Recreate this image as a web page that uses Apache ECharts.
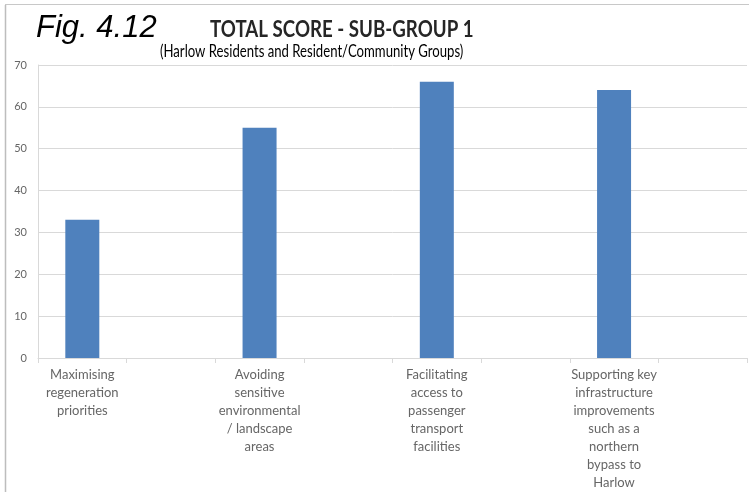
<!DOCTYPE html>
<html><head><meta charset="utf-8">
<script src="https://cdn.jsdelivr.net/npm/echarts@6/dist/echarts.min.js"></script>
<style>html,body{margin:0;padding:0;background:#fff}#c{width:749px;height:492px}</style>
</head><body><div id="c"></div>
<script>
const categories = [
  "Maximising\nregeneration\npriorities",
  "Avoiding\nsensitive\nenvironmental\n/ landscape\nareas",
  "Facilitating\naccess to\npassenger\ntransport\nfacilities",
  "Supporting key\ninfrastructure\nimprovements\nsuch as a\nnorthern\nbypass to\nHarlow"
];
const scores = [33, 55, 66, 64];
const yTicks = [0, 10, 20, 30, 40, 50, 60, 70];
const figLabel = "Fig. 4.12";
const titleText = "TOTAL SCORE - SUB-GROUP 1";
const subtitleText = "(Harlow Residents and Resident/Community Groups)";

// each category is followed by an empty slot on the axis
const axisCats = [], axisVals = [];
categories.forEach((c, i) => { axisCats.push(c, ""); axisVals.push(scores[i], null); });

const chart = echarts.init(document.getElementById('c'), null, {renderer: 'canvas'});
chart.setOption({
  animation: false,
  backgroundColor: '#fff',
  grid: {left: 38, right: 2, top: 65, bottom: 134, containLabel: false},
  xAxis: {
    type: 'category', data: axisCats,
    axisLine: {show: true, lineStyle: {color: '#D9D9D9', width: 1}},
    axisTick: {show: true, length: 5, lineStyle: {color: '#D9D9D9'}},
    axisLabel: {interval: 0, margin: 8, color: '#666', fontFamily: 'Lato', fontSize: 13, lineHeight: 18, align: 'center'},
    splitLine: {show: false}
  },
  yAxis: {
    type: 'value', min: yTicks[0], max: yTicks[yTicks.length - 1], interval: yTicks[1] - yTicks[0],
    axisLine: {show: true, lineStyle: {color: '#D9D9D9'}},
    axisTick: {show: false},
    axisLabel: {margin: 11, color: '#666', fontFamily: 'Lato', fontSize: 11},
    splitLine: {show: true, lineStyle: {color: '#D9D9D9', width: 1}}
  },
  series: [{
    type: 'bar', data: axisVals, barWidth: 34,
    itemStyle: {color: '#4F81BD'}
  }],
  graphic: [
    {type: 'line', shape: {x1: 5.5, y1: 5, x2: 5.5, y2: 492}, style: {stroke: '#BDBDBD', lineWidth: 1.5}},
    {type: 'line', shape: {x1: 5, y1: 4.5, x2: 749, y2: 4.5}, style: {stroke: '#C8C8C8', lineWidth: 1}},
    {type: 'text', x: 36, y: 13, style: {text: figLabel, font: 'italic 31px "Liberation Sans"', fill: '#000'}},
    {type: 'text', x: 210, y: 19, scaleX: 0.85, style: {text: titleText, font: 'bold 22px Lato', fill: '#262626'}},
    {type: 'text', x: 160, y: 42, scaleX: 0.73, style: {text: subtitleText, font: '18px Lato', fill: '#000'}}
  ]
});
</script></body></html>
